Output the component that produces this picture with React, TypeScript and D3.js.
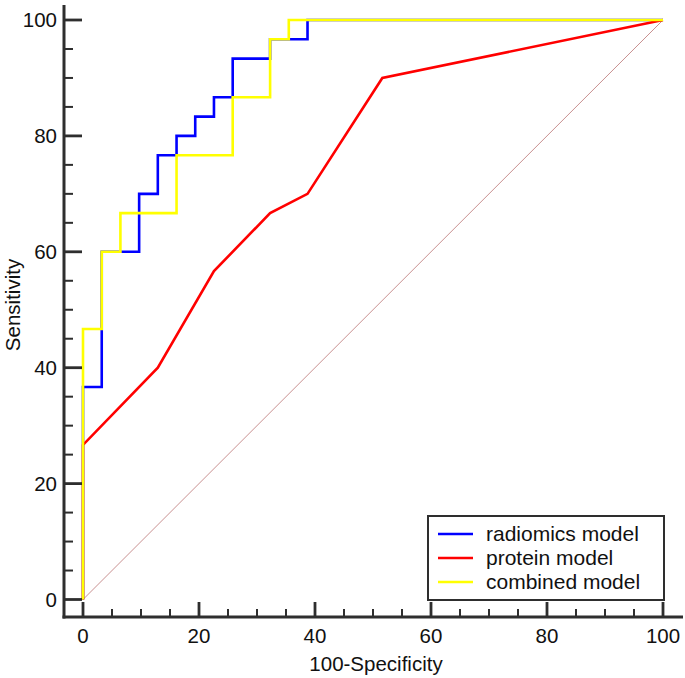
import React, { useEffect, useRef } from "react";
import * as d3 from "d3";

const radiomicsX = [0, 0, 3.23, 3.23, 9.68, 9.68, 12.9, 12.9, 16.13, 16.13, 19.35, 19.35, 22.58, 22.58, 25.81, 25.81, 32.26, 32.26, 38.71, 38.71, 100];
const radiomicsY = [0, 36.67, 36.67, 60, 60, 70, 70, 76.67, 76.67, 80, 80, 83.33, 83.33, 86.67, 86.67, 93.33, 93.33, 96.67, 96.67, 100, 100];

const proteinX = [0, 0, 12.9, 22.58, 32.26, 38.71, 51.61, 100];
const proteinY = [0, 26.67, 40, 56.67, 66.67, 70, 90, 100];

const combinedX = [0, 0, 3.23, 3.23, 6.45, 6.45, 16.13, 16.13, 25.81, 25.81, 32.26, 32.26, 35.48, 35.48, 100];
const combinedY = [0, 46.67, 46.67, 60, 60, 66.67, 66.67, 76.67, 76.67, 86.67, 86.67, 96.67, 96.67, 100, 100];

const xTicks = [0, 20, 40, 60, 80, 100];
const yTicks = [0, 20, 40, 60, 80, 100];
const seriesNames = ["radiomics model", "protein model", "combined model"];
const seriesColors = ["#0000ff", "#ff0000", "#ffff00"];

export default function App() {
  const ref = useRef<SVGSVGElement>(null);
  useEffect(() => {
    const svg = d3.select(ref.current);
    svg.selectAll("*").remove();
    const x = d3.scaleLinear().domain([0, 100]).range([83, 663]);
    const y = d3.scaleLinear().domain([0, 100]).range([599.5, 20]);
    const axisColor = "#2e2e2e";
    const font = "'Liberation Sans', Arial, sans-serif";
    const fs = 20.5;
    const axisX = 64;
    const axisY = 617;

    // diagonal
    svg.append("line")
      .attr("x1", x(0)).attr("y1", y(0)).attr("x2", x(100)).attr("y2", y(100))
      .attr("stroke", "#c89090").attr("stroke-width", 1);

    const line = d3.line<[number, number]>().x(d => x(d[0])).y(d => y(d[1]));
    const series: [number[], number[]][] = [
      [radiomicsX, radiomicsY],
      [proteinX, proteinY],
      [combinedX, combinedY],
    ];
    series.forEach(([xs, ys], i) => {
      const pts = xs.map((v, k) => [v, ys[k]] as [number, number]);
      svg.append("path").attr("d", line(pts) as string)
        .attr("fill", "none").attr("stroke", seriesColors[i])
        .attr("stroke-width", 2.6).attr("stroke-linejoin", "miter");
    });

    // axes lines
    svg.append("line").attr("x1", axisX).attr("x2", axisX).attr("y1", 5).attr("y2", axisY + 1.5)
      .attr("stroke", axisColor).attr("stroke-width", 3);
    svg.append("line").attr("x1", axisX - 1.5).attr("x2", 683).attr("y1", axisY).attr("y2", axisY)
      .attr("stroke", axisColor).attr("stroke-width", 3);

    const minor = d3.range(0, 101, 5);
    minor.forEach(v => {
      const major = v % 20 === 0;
      svg.append("line")
        .attr("x1", x(v)).attr("x2", x(v))
        .attr("y1", axisY).attr("y2", axisY - (major ? 15 : 8))
        .attr("stroke", axisColor).attr("stroke-width", major ? 2.8 : 2);
      svg.append("line")
        .attr("y1", y(v)).attr("y2", y(v))
        .attr("x1", axisX).attr("x2", axisX + (major ? 18 : 9))
        .attr("stroke", axisColor).attr("stroke-width", major ? 2.8 : 2);
    });

    xTicks.forEach(v => {
      svg.append("text").attr("x", x(v)).attr("y", 643)
        .attr("text-anchor", "middle").attr("font-family", font).attr("font-size", fs)
        .attr("fill", "#111").text(String(v));
    });
    yTicks.forEach(v => {
      svg.append("text").attr("x", 57).attr("y", y(v) + 7.3)
        .attr("text-anchor", "end").attr("font-family", font).attr("font-size", fs)
        .attr("fill", "#111").text(String(v));
    });

    svg.append("text").attr("x", 376).attr("y", 671)
      .attr("text-anchor", "middle").attr("font-family", font).attr("font-size", fs)
      .attr("fill", "#111").text("100-Specificity");
    svg.append("text")
      .attr("transform", `translate(20,${305}) rotate(-90)`)
      .attr("text-anchor", "middle").attr("font-family", font).attr("font-size", fs)
      .attr("fill", "#111").text("Sensitivity");

    // legend
    const lg = svg.append("g");
    lg.append("rect").attr("x", 428).attr("y", 516).attr("width", 236).attr("height", 84)
      .attr("fill", "white").attr("stroke", axisColor).attr("stroke-width", 2);
    seriesNames.forEach((name, i) => {
      const cy = 534 + i * 24;
      lg.append("line").attr("x1", 438).attr("x2", 473).attr("y1", cy).attr("y2", cy)
        .attr("stroke", seriesColors[i]).attr("stroke-width", 2.6);
      lg.append("text").attr("x", 486).attr("y", cy + 7)
        .attr("font-family", font).attr("font-size", 21).attr("fill", "#111").text(name);
    });
  }, []);
  return (
    <svg ref={ref} width={685} height={678}
      style={{ position: "absolute", left: 0, top: 0, background: "white" }} />
  );
}
